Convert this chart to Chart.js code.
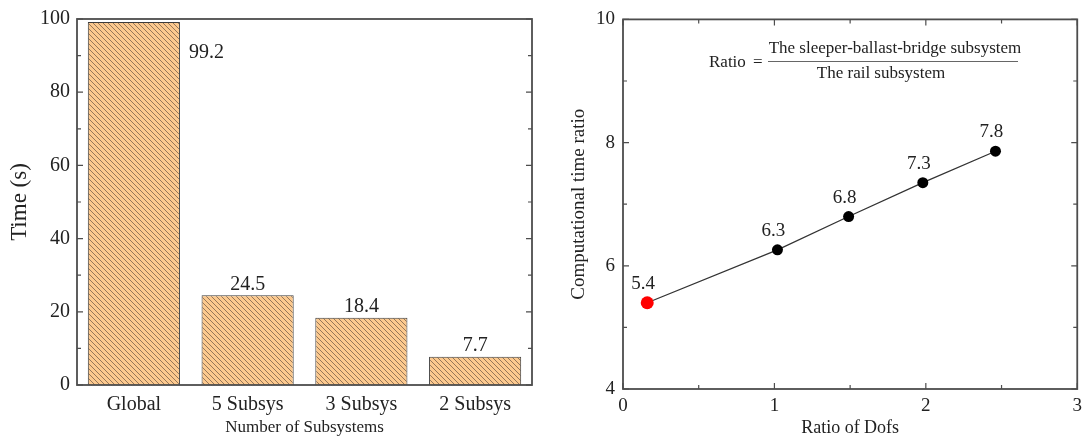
<!DOCTYPE html>
<html>
<head>
<meta charset="utf-8">
<script src="https://cdn.jsdelivr.net/npm/chart.js@4"></script>
<style>
  body { margin: 0; background: #fff; }
  #wrap { position: relative; width: 1088px; height: 441px; }
  #barBox { position: absolute; left: 0; top: 0; width: 545px; height: 441px; }
  #lineBox { position: absolute; left: 545px; top: 0; width: 543px; height: 441px; }
</style>
</head>
<body>
<div id="wrap">
  <div id="barBox"><canvas id="barChart"></canvas></div>
  <div id="lineBox"><canvas id="lineChart"></canvas></div>
</div>
<script>
const categories = ['Global', '5 Subsys', '3 Subsys', '2 Subsys'];
const times = [99.2, 24.5, 18.4, 7.7];

const dofRatio = [0.16, 1.02, 1.49, 1.98, 2.46];
const timeRatio = [5.4, 6.26, 6.8, 7.35, 7.86];
const ratioLabels = ['5.4', '6.3', '6.8', '7.3', '7.8'];

const serif = '"Liberation Serif", "DejaVu Serif", serif';
const ink = '#222';
const frame = '#4d4d4d';

// diagonal hatch for the bars
const makeHatch = () => {
	const s = 5;
	const c = document.createElement('canvas');
	c.width = s; c.height = s;
	const g = c.getContext('2d');
	g.fillStyle = '#fcc98e';
	g.fillRect(0, 0, s, s);
	g.strokeStyle = '#8a6c52';
	g.lineWidth = 0.9;
	g.beginPath();
	g.moveTo(-1, -1); g.lineTo(s + 1, s + 1);
	g.moveTo(-1, s - 1); g.lineTo(1, s + 1);
	g.moveTo(s - 1, -1); g.lineTo(s + 1, 1);
	g.stroke();
	return g.createPattern(c, 'repeat');
};

// box around the plot with inward ticks
const framePlugin = {
	id: 'frame',
	afterDraw(chart, args, opts) {
		const { ctx, chartArea: a, scales } = chart;
		ctx.save();
		ctx.strokeStyle = frame;
		ctx.lineWidth = 1.8;
		ctx.strokeRect(a.left, a.top, a.right - a.left, a.bottom - a.top);
		ctx.lineWidth = 1.2;
		ctx.beginPath();
		if (opts.y) {
			const y = scales.y;
			for (let v = y.min; v <= y.max + 1e-9; v += opts.y.minor) {
				const p = y.getPixelForValue(v);
				const major = Math.abs((v - y.min) / opts.y.major - Math.round((v - y.min) / opts.y.major)) < 1e-6;
				const len = major ? 6 : 4;
				ctx.moveTo(a.left, p); ctx.lineTo(a.left + len, p);
				ctx.moveTo(a.right, p); ctx.lineTo(a.right - len, p);
			}
		}
		if (opts.x) {
			const x = scales.x;
			for (let v = x.min; v <= x.max + 1e-9; v += opts.x.minor) {
				const p = x.getPixelForValue(v);
				const major = Math.abs(v / opts.x.major - Math.round(v / opts.x.major)) < 1e-6;
				const len = major ? 6 : 4;
				ctx.moveTo(p, a.bottom); ctx.lineTo(p, a.bottom - len);
				ctx.moveTo(p, a.top); ctx.lineTo(p, a.top + len);
			}
		}
		ctx.stroke();
		ctx.restore();
	}
};

const barLabels = {
	id: 'barLabels',
	afterDatasetsDraw(chart) {
		const { ctx } = chart;
		const meta = chart.getDatasetMeta(0);
		ctx.save();
		ctx.fillStyle = ink;
		ctx.font = '20px ' + serif;
		meta.data.forEach((el, i) => {
			const txt = times[i].toFixed(1);
			if (i === 0) {
				ctx.textAlign = 'left';
				ctx.textBaseline = 'middle';
				ctx.fillText(txt, el.x + el.width / 2 + 9, el.y + 31);
			} else {
				ctx.textAlign = 'center';
				ctx.textBaseline = 'bottom';
				ctx.fillText(txt, el.x, el.y - 1);
			}
		});
		ctx.restore();
	}
};

const pointLabels = {
	id: 'pointLabels',
	afterDatasetsDraw(chart) {
		const { ctx } = chart;
		const meta = chart.getDatasetMeta(0);
		ctx.save();
		ctx.fillStyle = ink;
		ctx.font = '19px ' + serif;
		ctx.textAlign = 'center';
		ctx.textBaseline = 'middle';
		meta.data.forEach((el, i) => {
			ctx.fillText(ratioLabels[i], el.x - 4, el.y - 19);
		});
		ctx.restore();
	}
};

const ratioFormula = {
	id: 'ratioFormula',
	afterDraw(chart) {
		const { ctx } = chart;
		const ox = -545;
		ctx.save();
		ctx.fillStyle = ink;
		ctx.font = '17px ' + serif;
		ctx.textBaseline = 'middle';
		ctx.textAlign = 'left';
		ctx.fillText('Ratio', 709 + ox, 63);
		ctx.fillText('=', 753 + ox, 63);
		ctx.textAlign = 'center';
		ctx.fillText('The sleeper-ballast-bridge subsystem', 895 + ox, 49);
		ctx.fillText('The rail subsystem', 881 + ox, 74);
		ctx.strokeStyle = '#666';
		ctx.lineWidth = 1;
		ctx.beginPath();
		ctx.moveTo(768 + ox, 61.5); ctx.lineTo(1018 + ox, 61.5);
		ctx.stroke();
		ctx.restore();
	}
};

new Chart(document.getElementById('barChart'), {
	type: 'bar',
	data: {
		labels: categories,
		datasets: [{
			data: times,
			backgroundColor: makeHatch(),
			borderColor: '#3c3c3c',
			borderWidth: 1,
			categoryPercentage: 1,
			barPercentage: 0.81
		}]
	},
	options: {
		responsive: true,
		maintainAspectRatio: false,
		animation: false,
		layout: { padding: { top: 18, right: 13, left: 0, bottom: 0 } },
		plugins: { legend: { display: false }, tooltip: { enabled: false }, frame: { y: { major: 20, minor: 10 } } },
		scales: {
			x: {
				grid: { display: false, drawTicks: false },
				border: { display: false },
				ticks: { color: ink, font: { family: serif, size: 20 }, padding: 8 },
				title: { display: true, text: 'Number of Subsystems', color: ink, font: { family: serif, size: 17 }, padding: { top: 0, bottom: 3 } },
				afterFit: s => { s.height = 56; }
			},
			y: {
				min: 0, max: 100,
				grid: { display: false, drawTicks: false },
				border: { display: false },
				ticks: { stepSize: 20, color: ink, font: { family: serif, size: 20 }, padding: 7 },
				title: { display: true, text: 'Time (s)', color: ink, font: { family: serif, size: 23 }, padding: { top: 6, bottom: 0 } },
				afterFit: s => { s.width = 77; }
			}
		}
	},
	plugins: [framePlugin, barLabels]
});

new Chart(document.getElementById('lineChart'), {
	type: 'scatter',
	data: {
		datasets: [{
			data: dofRatio.map((x, i) => ({ x, y: timeRatio[i] })),
			showLine: true,
			borderColor: '#333',
			borderWidth: 1.3,
			pointBackgroundColor: dofRatio.map((x, i) => i === 0 ? '#ff0000' : '#000'),
			pointBorderColor: dofRatio.map((x, i) => i === 0 ? '#ff0000' : '#000'),
			pointRadius: dofRatio.map((x, i) => i === 0 ? 6.5 : 5.5),
			pointBorderWidth: 0
		}]
	},
	options: {
		responsive: true,
		maintainAspectRatio: false,
		animation: false,
		layout: { padding: { top: 19, right: 5, left: 0, bottom: 0 } },
		plugins: { legend: { display: false }, tooltip: { enabled: false }, frame: { y: { major: 2, minor: 1 }, x: { major: 1, minor: 0.5 } } },
		scales: {
			x: {
				type: 'linear', min: 0, max: 3,
				grid: { display: false, drawTicks: false },
				border: { display: false },
				ticks: { stepSize: 1, color: ink, font: { family: serif, size: 19 }, padding: 6 },
				title: { display: true, text: 'Ratio of Dofs', color: ink, font: { family: serif, size: 18 }, padding: { top: 0, bottom: 2 } },
				afterFit: s => { s.height = 52; }
			},
			y: {
				min: 4, max: 10,
				grid: { display: false, drawTicks: false },
				border: { display: false },
				ticks: { stepSize: 2, color: ink, font: { family: serif, size: 19 }, padding: 8 },
				title: { display: true, text: 'Computational time ratio', color: ink, font: { family: serif, size: 19 }, padding: { top: 23, bottom: 0 } },
				afterFit: s => { s.width = 78; }
			}
		}
	},
	plugins: [framePlugin, pointLabels, ratioFormula]
});
</script>
</body>
</html>
